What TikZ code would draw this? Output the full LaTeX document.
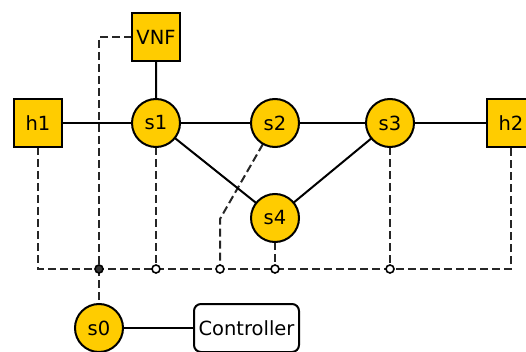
\documentclass[tikz,border=0pt]{standalone}
\usepackage{fontspec}
\setmainfont{DejaVu Sans}
\usetikzlibrary{calc}
\definecolor{gold}{HTML}{FFCC00}
\begin{document}
\begin{tikzpicture}[x=1pt,y=-1pt,
  lbl/.style={font=\fontsize{19.5}{22}\selectfont},
  sw/.style={circle,draw,line width=2pt,fill=gold,minimum size=48pt,inner sep=0pt,lbl},
  hostbox/.style={rectangle,draw,line width=2pt,fill=gold,minimum size=48pt,inner sep=0pt,lbl},
  ctrl/.style={rectangle,rounded corners=7pt,draw,line width=2pt,fill=white,minimum width=105pt,minimum height=48pt,inner sep=0pt,lbl},
  link/.style={line width=2pt},
  ctl/.style={line width=2pt,dash pattern=on 8pt off 4pt,draw=black!85},
  tap/.style={circle,draw,line width=1.6pt,fill=white,minimum size=8pt,inner sep=0pt},
  tapf/.style={circle,draw,line width=1.6pt,fill=black!80,minimum size=8pt,inner sep=0pt}]
\useasboundingbox (0,0) rectangle (526,352);
% coordinates
\coordinate (pvnf) at (156,37);
\coordinate (ph1) at (38,123);
\coordinate (ph2) at (511,123);
\coordinate (ps1) at (156,123);
\coordinate (ps2) at (275,123);
\coordinate (ps3) at (390,123);
\coordinate (ps4) at (275,218);
\coordinate (ps0) at (99,328);
\coordinate (pc) at (246.5,328);
\coordinate (bl) at (38,269);
\coordinate (br) at (511,269);
\coordinate (b0) at (99,269);
\coordinate (b1) at (156,269);
\coordinate (b2) at (220,269);
\coordinate (b4) at (275,269);
\coordinate (b3) at (390,269);
\coordinate (bend) at (220,219);
\coordinate (vc) at (99,37);
\coordinate (s2out) at ($(ps2)!0.22!(bend)$);
% dashed control
\draw[ctl] (ph1) -- (bl) -- (br) -- (ph2);
\draw[ctl] (ps1) -- (b1);
\draw[ctl] (ps3) -- (b3);
\draw[ctl] (ps4) -- (b4);
\draw[ctl] (s2out) -- (bend) -- (b2);
\draw[ctl] (pvnf) -- (vc) -- (ps0);
% solid links
\draw[link] (ph1) -- (ps1) -- (ps2) -- (ps3) -- (ph2);
\draw[link] (pvnf) -- (ps1) -- (ps4) -- (ps3);
\draw[link] (ps0) -- (pc);
% nodes on top
\node[hostbox] (vnf) at (pvnf) {VNF};
\node[hostbox] (h1) at (ph1) {h1};
\node[hostbox] (h2) at (ph2) {h2};
\node[sw] (s1) at (ps1) {s1};
\node[sw] (s2) at (ps2) {s2};
\node[sw] (s3) at (ps3) {s3};
\node[sw] (s4) at (ps4) {s4};
\node[sw] (s0) at (ps0) {s0};
\node[ctrl] (c) at (pc) {Controller};
% taps
\node[tapf] (t0) at (b0) {};
\node[tap] (t1) at (b1) {};
\node[tap] (t2) at (b2) {};
\node[tap] (t4) at (b4) {};
\node[tap] (t3) at (b3) {};
\end{tikzpicture}
\end{document}
